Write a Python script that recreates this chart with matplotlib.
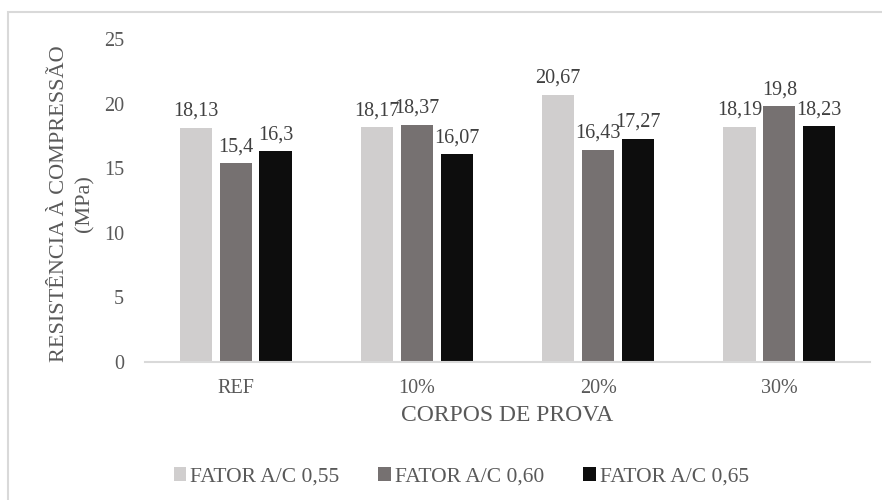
import numpy as np
import matplotlib.pyplot as plt
from matplotlib.patches import Rectangle

plt.rcParams['font.family'] = ['Liberation Serif', 'DejaVu Serif']

# Resistência à compressão (MPa) por corpo de prova
categorias = ['REF', '10%', '20%', '30%']
series = ['FATOR A/C 0,55', 'FATOR A/C 0,60', 'FATOR A/C 0,65']
fator_055 = [18.13, 18.17, 20.67, 18.19]
fator_060 = [15.4, 18.37, 16.43, 19.8]
fator_065 = [16.3, 16.07, 17.27, 18.23]
rotulos_055 = ['18,13', '18,17', '20,67', '18,19']
rotulos_060 = ['15,4', '18,37', '16,43', '19,8']
rotulos_065 = ['16,3', '16,07', '17,27', '18,23']

cores = ['#D0CECE', '#767171', '#0D0D0D']
cinza_txt = '#595959'

fig = plt.figure(figsize=(8.82, 5), dpi=100)
ax = fig.add_axes([0.1644, 0.276, 0.822, 0.646])

# moldura clara em volta do gráfico
fig.patches.append(Rectangle((8 / 882, -0.02), 1.0, 1 - 12 / 500 + 0.02,
                             transform=fig.transFigure, fill=False,
                             edgecolor='#D9D9D9', linewidth=1.5))

x = np.arange(len(categorias))
larg = 0.177
passo = 0.22
dados = [fator_055, fator_060, fator_065]
rotulos = [rotulos_055, rotulos_060, rotulos_065]
for i, (vals, rots) in enumerate(zip(dados, rotulos)):
    pos = x + (i - 1) * passo
    barras = ax.bar(pos, vals, width=larg, color=cores[i], label=series[i])
    for b, r in zip(barras, rots):
        ax.annotate(r, (b.get_x() + b.get_width() / 2, b.get_height()),
                    textcoords='offset points', xytext=(0, 5), ha='center',
                    va='bottom', fontsize=14.5, color='#404040')

ax.set_xlim(-0.5, 3.5)
ax.set_ylim(0, 25)
ax.set_yticks([0, 5, 10, 15, 20, 25])
ax.set_xticks(x)
ax.set_xticklabels(categorias)
ax.tick_params(axis='both', length=0, labelsize=14.5, labelcolor=cinza_txt)
ax.tick_params(axis='y', pad=15)
ax.tick_params(axis='x', pad=12)

for lado in ['top', 'right', 'left']:
    ax.spines[lado].set_visible(False)
ax.spines['bottom'].set_color('#D9D9D9')
ax.spines['bottom'].set_linewidth(1.5)

ax.set_xlabel('CORPOS DE PROVA', fontsize=17, color=cinza_txt, labelpad=5)
ax.set_ylabel('RESISTÊNCIA À COMPRESSÃO\n(MPa)', fontsize=16,
              color=cinza_txt, linespacing=1.4)
ax.yaxis.set_label_coords(-0.07, 0.49)

fig.legend(loc='center', bbox_to_anchor=(0.523, 0.046), ncol=3, frameon=False,
           fontsize=15.5, handlelength=0.58, handleheight=0.58, handletextpad=0.2,
           columnspacing=1.8, labelcolor=cinza_txt)

fig.savefig('out.png', dpi=100)
